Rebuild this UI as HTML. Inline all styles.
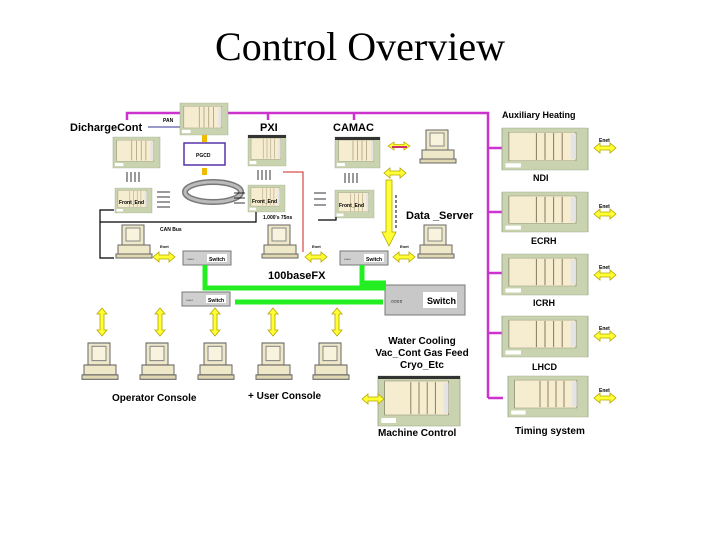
<!DOCTYPE html>
<html><head><meta charset="utf-8"><style>
html,body{margin:0;padding:0;background:#fff;}
svg{display:block}
text{font-family:"Liberation Sans",sans-serif;font-weight:bold;fill:#000}
</style></head><body>
<svg width="720" height="540" viewBox="0 0 720 540" xmlns="http://www.w3.org/2000/svg">
<defs>
<g id="crate">
<rect x="0" y="0" width="100" height="100" fill="#c9d3b0" stroke="#9aa585"/>
<rect x="8" y="10" width="78" height="68" fill="#f6ecd0" stroke="#8b8b70"/>
<g stroke="#8b7d5a" stroke-width="1.2"><line x1="40" y1="12" x2="40" y2="76"/><line x1="50" y1="12" x2="50" y2="76"/><line x1="60" y1="12" x2="60" y2="76"/><line x1="70" y1="12" x2="70" y2="76"/></g>
<rect x="80" y="14" width="6" height="60" fill="#e4e4e4"/>
<rect x="4" y="84" width="18" height="10" fill="#fff"/>
</g>
<g id="pc">
<rect x="6" y="0" width="22" height="20" fill="#efe8c8" stroke="#666"/>
<rect x="10" y="3" width="14" height="13" fill="#f8f3dc" stroke="#888"/>
<rect x="2" y="20" width="32" height="9" fill="#efe8c8" stroke="#666"/>
<rect x="0" y="29" width="36" height="4" fill="#e0d8b0" stroke="#666"/>
</g>
<g id="sw">
<rect x="0" y="0" width="48" height="14" fill="#cfcfcf" stroke="#777"/>
<rect x="24" y="3" width="20" height="8" fill="#fff"/>
<text x="26" y="10" font-size="5">Switch</text>
<text x="4" y="10" font-size="5">▫▫▫▫</text>
</g>
<g id="ha"><polygon points="0,5 6,0 6,3 16,3 16,0 22,5 16,10 16,7 6,7 6,10" fill="#ffff33" stroke="#b5a500" stroke-width="0.8"/></g>
<g id="va"><polygon points="5,0 10,6 7,6 7,22 10,22 5,28 0,22 3,22 3,6 0,6" fill="#ffff33" stroke="#b5a500" stroke-width="0.8"/></g>
</defs>

<text x="360" y="60" text-anchor="middle" font-family="Liberation Serif,serif" font-weight="normal" font-size="40" style="font-family:'Liberation Serif',serif;font-weight:normal">Control Overview</text>

<!-- magenta bus -->
<g stroke="#cc33cc" stroke-width="2.5" fill="none">
<polyline points="127,120 127,113 488,113 488,398"/>
<line x1="268" y1="113" x2="268" y2="120"/>
<line x1="354" y1="113" x2="354" y2="120"/>
<line x1="488" y1="148" x2="503" y2="148"/>
<line x1="488" y1="212" x2="503" y2="212"/>
<line x1="488" y1="273" x2="503" y2="273"/>
<line x1="488" y1="333" x2="503" y2="333"/>
<line x1="488" y1="398" x2="503" y2="398"/>
</g>
<line x1="148" y1="127" x2="180" y2="127" stroke="#333399" stroke-width="1"/>
<text x="163" y="122" font-size="5">PAN</text>

<!-- labels -->
<text x="70" y="131" font-size="11">DichargeCont</text>
<text x="260" y="131" font-size="11">PXI</text>
<text x="333" y="131" font-size="11">CAMAC</text>
<text x="406" y="219" font-size="11">Data _Server</text>
<text x="268" y="279" font-size="11">100baseFX</text>

<!-- crates -->
<use href="#crate" transform="translate(180,103) scale(0.48,0.32)"/>
<use href="#crate" transform="translate(113,137) scale(0.47,0.31)"/>
<use href="#crate" transform="translate(248,135) scale(0.38,0.31)"/>
<use href="#crate" transform="translate(335,137) scale(0.45,0.31)"/>
<rect x="335" y="137" width="45" height="3" fill="#333"/>
<rect x="248" y="135" width="38" height="3" fill="#333"/>
<use href="#crate" transform="translate(115,188) scale(0.37,0.25)"/>
<use href="#crate" transform="translate(248,185) scale(0.37,0.27)"/>
<use href="#crate" transform="translate(335,190) scale(0.39,0.28)"/>
<text x="119" y="204" font-size="5">Front_End</text>
<text x="252" y="203" font-size="5">Front_End</text>
<text x="339" y="207" font-size="5">Front_End</text>

<!-- PGCD -->
<rect x="184" y="143" width="41" height="22" fill="#fff" stroke="#5533aa" stroke-width="1.5"/>
<text x="196" y="157" font-size="5">PGCD</text>
<rect x="202" y="135" width="5" height="7" fill="#eebb00"/>
<rect x="202" y="168" width="5" height="7" fill="#eebb00"/>
<!-- torus -->
<ellipse cx="213" cy="192" rx="28" ry="10" fill="none" stroke="#777" stroke-width="6"/>
<ellipse cx="213" cy="192" rx="28" ry="10" fill="none" stroke="#bbb" stroke-width="3"/>

<!-- dashed tick arrows -->
<g stroke="#000" stroke-width="0.8">
<line x1="127" y1="172" x2="127" y2="182"/><line x1="131" y1="172" x2="131" y2="182"/><line x1="135" y1="172" x2="135" y2="182"/><line x1="139" y1="172" x2="139" y2="182"/>
<line x1="258" y1="170" x2="258" y2="180"/><line x1="262" y1="170" x2="262" y2="180"/><line x1="266" y1="170" x2="266" y2="180"/><line x1="270" y1="170" x2="270" y2="180"/>
<line x1="345" y1="173" x2="345" y2="183"/><line x1="349" y1="173" x2="349" y2="183"/><line x1="353" y1="173" x2="353" y2="183"/><line x1="357" y1="173" x2="357" y2="183"/>
<line x1="157" y1="192" x2="170" y2="192"/><line x1="157" y1="197" x2="170" y2="197"/><line x1="157" y1="202" x2="170" y2="202"/><line x1="157" y1="207" x2="170" y2="207"/>
<line x1="234" y1="193" x2="245" y2="193"/><line x1="234" y1="198" x2="245" y2="198"/><line x1="234" y1="203" x2="245" y2="203"/>
<line x1="314" y1="193" x2="326" y2="193"/><line x1="314" y1="199" x2="326" y2="199"/><line x1="314" y1="205" x2="326" y2="205"/>
</g>
<!-- black lines -->
<g stroke="#000" stroke-width="1.2" fill="none">
<polyline points="114,210 100,210 100,258 114,258"/>
<polyline points="100,222 256,222 256,212"/>
<polyline points="318,220 336,220 336,217"/>
</g>
<text x="160" y="231" font-size="5">CAN Bus</text>
<text x="263" y="219" font-size="5">1.000's 75ns</text>
<!-- red -->
<polyline points="283,172 303,172 303,252" fill="none" stroke="#cc2222" stroke-width="1"/>

<!-- computers -->
<use href="#pc" transform="translate(116,225)"/>
<use href="#pc" transform="translate(262,225)"/>
<use href="#pc" transform="translate(418,225)"/>
<use href="#pc" transform="translate(420,130)"/>
<!-- switches -->
<use href="#sw" transform="translate(183,251)"/>
<use href="#sw" transform="translate(340,251)"/>
<use href="#sw" transform="translate(182,292)"/>
<g transform="translate(385,285)">
<rect x="0" y="0" width="80" height="30" fill="#c8c8c8" stroke="#777"/>
<rect x="38" y="7" width="34" height="16" fill="#fff"/>
<text x="42" y="19" font-size="9">Switch</text>
<text x="6" y="19" font-size="8">▫▫▫▫</text>
</g>

<!-- green -->
<g stroke="#22ee22" stroke-width="5" fill="none">
<polyline points="205,265 205,288 386,288"/>
<polyline points="362,265 362,283 386,283"/>
<line x1="235" y1="302" x2="383" y2="302"/>
</g>

<!-- yellow horizontal arrows -->
<use href="#ha" transform="translate(153,252)"/>
<use href="#ha" transform="translate(305,252)"/>
<use href="#ha" transform="translate(393,252)"/>
<use href="#ha" transform="translate(384,168)"/>
<use href="#ha" transform="translate(388,142) scale(1,0.8)"/><rect x="392" y="146" width="15" height="2" fill="#cc3366"/>
<text x="160" y="248" font-size="4">Enet</text><text x="312" y="248" font-size="4">Enet</text><text x="400" y="248" font-size="4">Enet</text>
<polygon points="386,180 392,180 392,232 396,232 389,246 382,232 386,232" fill="#ffff33" stroke="#b5a500" stroke-width="0.8"/>
<line x1="396" y1="195" x2="396" y2="228" stroke="#555" stroke-width="1.5" stroke-dasharray="3,2"/>

<!-- right side crates -->
<use href="#crate" transform="translate(502,128) scale(0.86,0.42)"/>
<use href="#crate" transform="translate(502,192) scale(0.86,0.40)"/>
<use href="#crate" transform="translate(502,254) scale(0.86,0.41)"/>
<use href="#crate" transform="translate(502,316) scale(0.86,0.41)"/>
<use href="#crate" transform="translate(508,376) scale(0.80,0.41)"/>
<text x="502" y="118" font-size="9">Auxiliary Heating</text>
<text x="533" y="181" font-size="9">NDI</text>
<text x="531" y="244" font-size="9" font-weight="normal">ECRH</text>
<text x="533" y="306" font-size="9">ICRH</text>
<text x="532" y="370" font-size="9">LHCD</text>
<text x="515" y="434" font-size="10">Timing system</text>
<use href="#ha" transform="translate(594,143)"/>
<use href="#ha" transform="translate(594,209)"/>
<use href="#ha" transform="translate(594,270)"/>
<use href="#ha" transform="translate(594,331)"/>
<use href="#ha" transform="translate(594,393)"/>
<text x="599" y="142" font-size="5">Enet</text><text x="599" y="208" font-size="5">Enet</text><text x="599" y="269" font-size="5">Enet</text><text x="599" y="330" font-size="5">Enet</text><text x="599" y="392" font-size="5">Enet</text>

<!-- bottom consoles -->
<use href="#va" transform="translate(97,308)"/>
<use href="#va" transform="translate(155,308)"/>
<use href="#va" transform="translate(210,308)"/>
<use href="#va" transform="translate(268,308)"/>
<use href="#va" transform="translate(332,308)"/>
<use href="#pc" transform="translate(82,343) scale(1,1.1)"/>
<use href="#pc" transform="translate(140,343) scale(1,1.1)"/>
<use href="#pc" transform="translate(198,343) scale(1,1.1)"/>
<use href="#pc" transform="translate(256,343) scale(1,1.1)"/>
<use href="#pc" transform="translate(313,343) scale(1,1.1)"/>
<text x="112" y="401" font-size="10">Operator Console</text>
<text x="248" y="399" font-size="10">+ User Console</text>
<text x="422" y="344" font-size="10" text-anchor="middle">Water Cooling</text>
<text x="422" y="356" font-size="10" text-anchor="middle">Vac_Cont Gas Feed</text>
<text x="422" y="368" font-size="10" text-anchor="middle">Cryo_Etc</text>
<use href="#crate" transform="translate(378,376) scale(0.82,0.5)"/>
<rect x="378" y="376" width="82" height="3" fill="#333"/>
<use href="#ha" transform="translate(362,394)"/>
<text x="378" y="436" font-size="10">Machine Control</text>
</svg>
</body></html>
